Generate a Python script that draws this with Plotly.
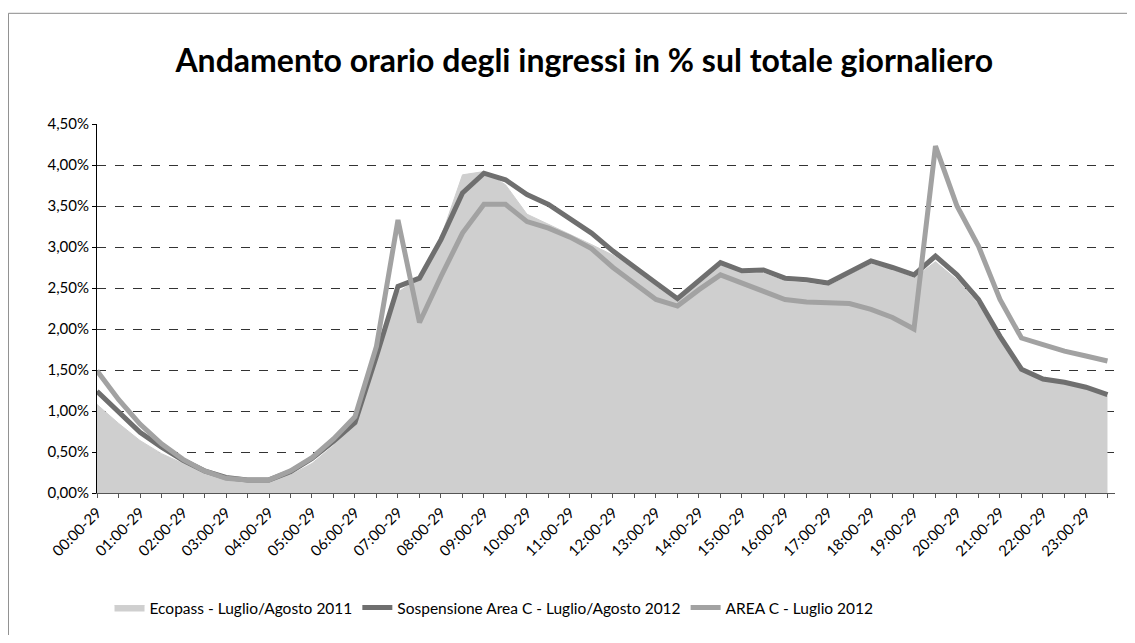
import plotly.graph_objects as go

# fasce orarie (mezz'ore)
fasce = []
for h in range(24):
    fasce.append(f"{h:02d}:00-29")
    fasce.append(f"{h:02d}:30-59")

# valori in % sul totale giornaliero
ecopass_2011 = [1.08, 0.85, 0.64, 0.48, 0.36, 0.26, 0.19, 0.16, 0.16, 0.22, 0.36, 0.58,
                0.86, 1.64, 2.45, 2.62, 3.12, 3.88, 3.92, 3.76, 3.40, 3.28, 3.15, 3.03,
                2.90, 2.72, 2.52, 2.34, 2.56, 2.78, 2.68, 2.68, 2.58, 2.56, 2.52, 2.66,
                2.79, 2.72, 2.62, 2.82, 2.60, 2.30, 1.88, 1.48, 1.37, 1.33, 1.27, 1.18]

sospensione_2012 = [1.24, 0.98, 0.74, 0.56, 0.40, 0.27, 0.19, 0.16, 0.16, 0.26, 0.42, 0.63,
                    0.86, 1.67, 2.52, 2.62, 3.09, 3.66, 3.90, 3.82, 3.64, 3.52, 3.35, 3.17,
                    2.95, 2.75, 2.56, 2.37, 2.60, 2.81, 2.71, 2.72, 2.62, 2.60, 2.56, 2.70,
                    2.83, 2.75, 2.66, 2.89, 2.66, 2.36, 1.91, 1.51, 1.39, 1.35, 1.29, 1.20]

area_c_2012 = [1.49, 1.14, 0.84, 0.60, 0.41, 0.27, 0.18, 0.16, 0.16, 0.27, 0.43, 0.66,
               0.93, 1.79, 3.33, 2.08, 2.64, 3.17, 3.52, 3.52, 3.31, 3.23, 3.12, 2.98,
               2.75, 2.56, 2.36, 2.28, 2.48, 2.66, 2.56, 2.46, 2.36, 2.33, 2.32, 2.31,
               2.24, 2.14, 2.00, 4.23, 3.50, 3.01, 2.36, 1.89, 1.81, 1.73, 1.67, 1.61]

# posizione di ogni fascia sull'asse (indice) e etichette ogni ora
pos = list(range(len(fasce)))
etichette = fasce[::2]

fig = go.Figure()

fig.add_trace(go.Scatter(
    x=pos, y=ecopass_2011, name="Ecopass - Luglio/Agosto 2011", text=fasce,
    mode="lines", fill="tozeroy", fillcolor="#cfcfcf",
    line=dict(color="#cfcfcf", width=1),
))
fig.add_trace(go.Scatter(
    x=pos, y=sospensione_2012, name="Sospensione Area C - Luglio/Agosto 2012", text=fasce,
    mode="lines", line=dict(color="#6f6f6f", width=5),
))
fig.add_trace(go.Scatter(
    x=pos, y=area_c_2012, name="AREA C - Luglio 2012", text=fasce,
    mode="lines", line=dict(color="#a2a2a2", width=5),
))

# cornice (solo lato superiore e sinistro, come nell'originale)
fig.add_shape(type="line", xref="paper", yref="paper",
              x0=-0.087, x1=1.02, y0=1.30, y1=1.30,
              line=dict(color="#8a8a8a", width=1))
fig.add_shape(type="line", xref="paper", yref="paper",
              x0=-0.087, x1=-0.087, y0=1.30, y1=-0.40,
              line=dict(color="#8a8a8a", width=1))

# la pagina ha un margine di 8px: la figura e' ridotta di conseguenza
fig.update_layout(
    width=1119, height=627,
    paper_bgcolor="white", plot_bgcolor="white",
    separators=",.",
    font=dict(family="Lato, Open Sans, sans-serif", color="#000000", size=14),
    title=dict(text="<b>Andamento orario degli ingressi in % sul totale giornaliero</b>",
               x=0.515, xanchor="center", y=0.915, yanchor="middle",
               font=dict(size=32, family="Lato, sans-serif")),
    margin=dict(l=89, r=12, t=116, b=141),
    showlegend=True,
    legend=dict(orientation="h", x=0.39, xanchor="center", y=-0.308, yanchor="middle",
                font=dict(size=15.5), itemwidth=30, tracegroupgap=0),
)

fig.update_xaxes(
    range=[0, 47.35],
    tickmode="array", tickvals=pos[::2], ticktext=etichette,
    tickangle=-45, tickfont=dict(size=15),
    showline=True, linecolor="#555555", linewidth=1,
    ticks="outside", ticklen=4, tickcolor="#555555",
    minor=dict(tickmode="linear", dtick=1, ticks="outside", ticklen=4, tickcolor="#555555"),
    showgrid=False, zeroline=False,
)
fig.update_yaxes(
    range=[0, 4.5], dtick=0.5, tickformat=".2f", ticksuffix="%",
    tickfont=dict(size=15),
    showline=True, linecolor="#000000", linewidth=1,
    ticks="outside", ticklen=4, tickcolor="#000000",
    showgrid=True, gridcolor="#333333", gridwidth=1, griddash="dash",
    zeroline=False,
)

fig.write_html("out.html")
